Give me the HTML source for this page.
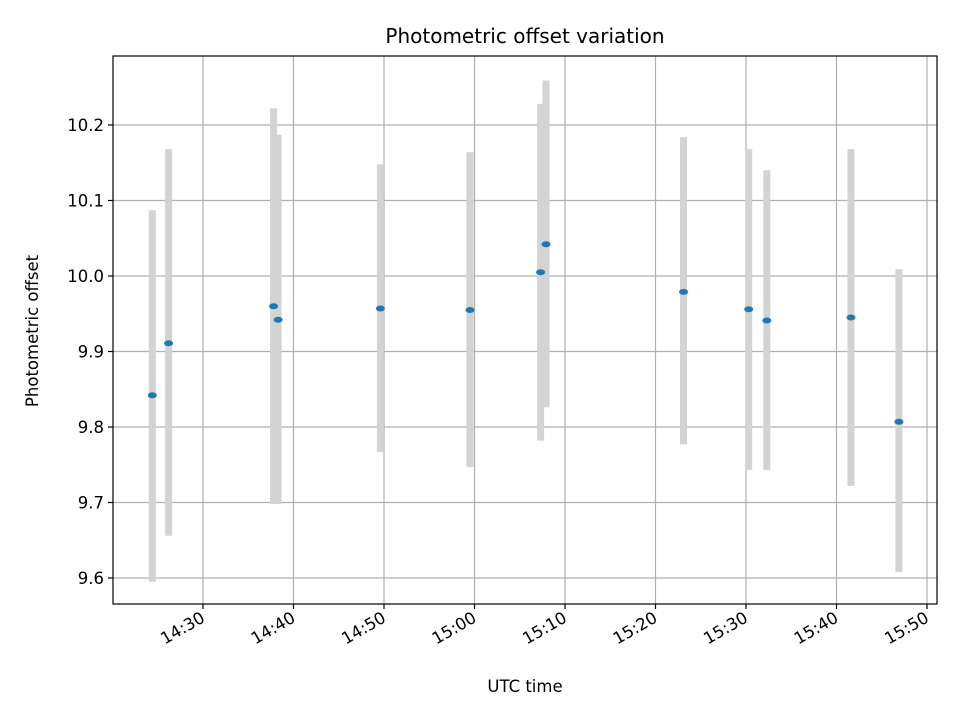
<!DOCTYPE html>
<html><head><meta charset="utf-8"><style>
body{margin:0;background:#fff}
text{font-family:"DejaVu Sans","Liberation Sans",sans-serif;fill:#000}
</style></head><body>
<svg id="chart" width="960" height="720" xmlns="http://www.w3.org/2000/svg">
<rect width="960" height="720" fill="#fff"/>
<g id="grid"></g><g id="bars"></g><g id="pts"></g><g id="axes"></g>
</svg>
<script>
const times=[24.4,26.2,37.8,38.3,49.6,59.5,67.3,67.9,83.1,90.3,92.3,101.6,106.9]; // minutes after 14:00
const offsets=[9.842,9.911,9.960,9.942,9.957,9.955,10.005,10.042,9.979,9.956,9.941,9.945,9.807];
const errLow=[9.595,9.656,9.698,9.698,9.767,9.747,9.782,9.826,9.777,9.743,9.743,9.722,9.608];
const errHigh=[10.087,10.168,10.222,10.187,10.148,10.164,10.228,10.259,10.184,10.168,10.140,10.168,10.009];
const xTicks=[30,40,50,60,70,80,90,100,110];
const xTickLabels=["14:30","14:40","14:50","15:00","15:10","15:20","15:30","15:40","15:50"];
const yTicks=[9.6,9.7,9.8,9.9,10.0,10.1,10.2];
const yTickLabels=["9.6","9.7","9.8","9.9","10.0","10.1","10.2"];
const L=113,R=937,T=56,B=604;
const xs=m=>203+(m-30)*9.05;
const ys=v=>125+(10.2-v)*755;
const NS="http://www.w3.org/2000/svg";
function mk(tag,attrs,parent,txt){const e=document.createElementNS(NS,tag);for(const k in attrs)e.setAttribute(k,attrs[k]);if(txt!==undefined)e.textContent=txt;parent.appendChild(e);return e;}
const grid=document.getElementById('grid'),bars=document.getElementById('bars'),pts=document.getElementById('pts'),axes=document.getElementById('axes');
xTicks.forEach((t,i)=>{const x=xs(t);
 const g=mk('line',{x1:x,x2:x,y1:T,y2:B,stroke:'#b0b0b0','stroke-width':1.2},grid);
 
 mk('line',{x1:x,x2:x,y1:B,y2:B+5,stroke:'#000','stroke-width':1.2},axes);
 const lb=mk('text',{x:x+3,y:B+17,'font-size':16.5,'text-anchor':'end',transform:`rotate(-30 ${x+3} ${B+17})`},axes,xTickLabels[i]);
 
});
yTicks.forEach((t,i)=>{const y=ys(t);
 const g=mk('line',{x1:L,x2:R,y1:y,y2:y,stroke:'#b0b0b0','stroke-width':1.2},grid);
 
 mk('line',{x1:L-5,x2:L,y1:y,y2:y,stroke:'#000','stroke-width':1.2},axes);
 const lb=mk('text',{x:L-9,y:y+6,'font-size':16.5,'text-anchor':'end'},axes,yTickLabels[i]);
 
});
times.forEach((t,i)=>{const x=xs(t);
 const b=mk('rect',{x:x-3.5,y:ys(errHigh[i]),width:7,height:ys(errLow[i])-ys(errHigh[i]),fill:'#d3d3d3'},bars);
 
 const p=mk('ellipse',{cx:x,cy:ys(offsets[i]),rx:4.5,ry:3,fill:'#1f77b4'},pts);
 
});
const fr=mk('rect',{x:L,y:T,width:R-L,height:B-T,fill:'none',stroke:'#000','stroke-width':1.2},axes);

const ti=mk('text',{x:(L+R)/2,y:43,'font-size':20,'text-anchor':'middle'},axes,'Photometric offset variation');

const xt=mk('text',{x:(L+R)/2,y:692,'font-size':16.5,'text-anchor':'middle'},axes,'UTC time');

const yt=mk('text',{x:38,y:(T+B)/2+1,'font-size':16.5,'text-anchor':'middle',transform:`rotate(-90 38 ${(T+B)/2+1})`},axes,'Photometric offset');

</script>
</body></html>
